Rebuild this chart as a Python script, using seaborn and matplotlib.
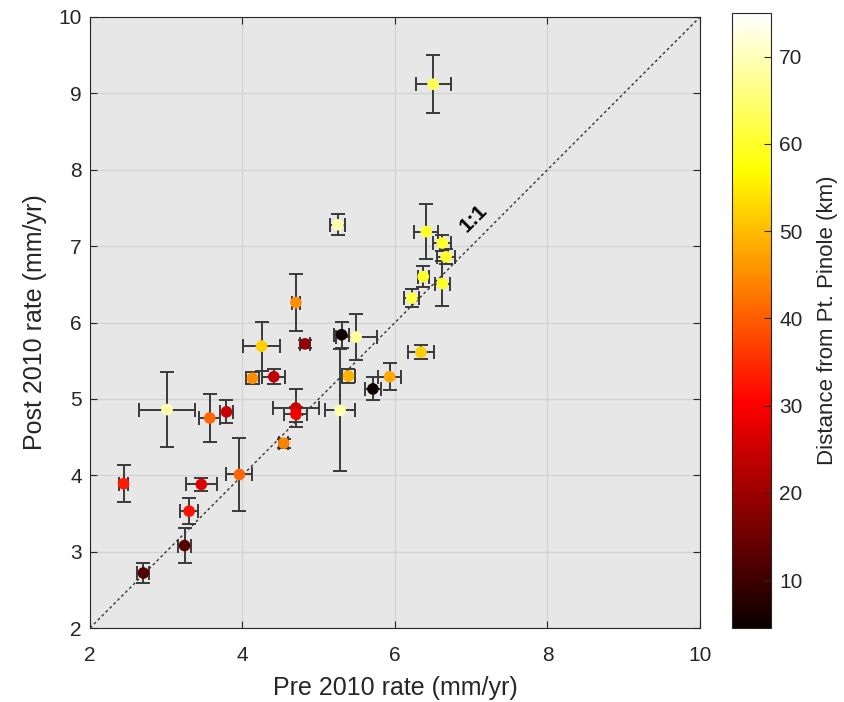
import matplotlib
matplotlib.use("Agg")
import matplotlib.pyplot as plt
import seaborn as sns
import numpy as np
import pandas as pd
from matplotlib.colors import Normalize
from matplotlib.cm import ScalarMappable

pre_rate = [6.50, 5.25, 6.41, 6.62, 6.67, 6.37, 6.62, 6.22, 6.34, 5.93,
            4.70, 4.82, 4.25, 5.30, 5.49, 5.39, 4.13, 4.41, 5.71, 5.28,
            4.70, 4.70, 4.54, 3.79, 3.01, 3.57, 2.44, 3.46, 3.30, 3.96,
            3.24, 2.70]
post_rate = [9.12, 7.28, 7.19, 7.04, 6.86, 6.60, 6.51, 6.32, 5.61, 5.29,
             6.26, 5.72, 5.69, 5.84, 5.81, 5.30, 5.27, 5.29, 5.13, 4.85,
             4.88, 4.80, 4.42, 4.83, 4.86, 4.75, 3.89, 3.88, 3.53, 4.01,
             3.08, 2.72]
pre_err = [0.23, 0.10, 0.16, 0.12, 0.12, 0.07, 0.10, 0.10, 0.17, 0.15,
           0.05, 0.06, 0.24, 0.10, 0.27, 0.08, 0.08, 0.15, 0.10, 0.20,
           0.30, 0.15, 0.06, 0.08, 0.37, 0.14, 0.06, 0.20, 0.12, 0.17,
           0.08, 0.08]
post_err = [0.38, 0.14, 0.36, 0.10, 0.10, 0.14, 0.30, 0.12, 0.09, 0.18,
            0.37, 0.05, 0.32, 0.17, 0.30, 0.09, 0.08, 0.10, 0.15, 0.80,
            0.25, 0.10, 0.06, 0.15, 0.49, 0.32, 0.24, 0.08, 0.17, 0.48,
            0.23, 0.13]
distance = [63, 69, 60, 60, 60, 60, 60, 62, 52, 48,
            45, 19, 52, 5, 68, 49, 45, 24, 5, 69,
            25, 29, 44, 25, 69, 41, 33, 27, 32, 41,
            13, 12]

vmin, vmax = 4.5, 75.0

df = pd.DataFrame({"pre": pre_rate, "post": post_rate, "dist": distance})

plt.rcParams['font.family'] = ['Liberation Sans', 'DejaVu Sans']
fig = plt.figure(figsize=(8.45, 7.02), dpi=100)
ax = fig.add_axes([90/845, 74/702, 610/845, 611/702])
ax.set_facecolor('#e7e7e7')

ax.grid(True, color='#d4d4d4', linewidth=1.0, zorder=0)
ax.set_axisbelow(True)

ax.plot([2, 10], [2, 10], linestyle=(0, (2, 2)), color='#333333', linewidth=1.0, zorder=1)

ax.errorbar(pre_rate, post_rate, xerr=pre_err, yerr=post_err, fmt='none',
            ecolor='#3a3a3a', elinewidth=1.4, capsize=5, capthick=1.4, zorder=2)

norm = Normalize(vmin=vmin, vmax=vmax)
sns.scatterplot(data=df, x="pre", y="post", hue="dist", palette="hot",
                hue_norm=norm, s=70, edgecolor='none', legend=False, ax=ax, zorder=3)

ax.text(7.03, 7.37, "1:1", rotation=45, fontsize=15, fontweight='bold',
        ha='center', va='center', color='black')

ax.set_xlim(2, 10)
ax.set_ylim(2, 10)
ax.set_xticks([2, 4, 6, 8, 10])
ax.set_yticks([2, 3, 4, 5, 6, 7, 8, 9, 10])
ax.tick_params(axis='both', direction='in', top=True, right=True, labelsize=15,
               colors='#262626', length=5)
ax.tick_params(axis='x', pad=13)
ax.tick_params(axis='y', pad=6)
ax.set_xlabel("Pre 2010 rate (mm/yr)", fontsize=18, color='#262626', labelpad=8)
ax.set_ylabel("Post 2010 rate (mm/yr)", fontsize=18, color='#262626', labelpad=8)
for sp in ax.spines.values():
    sp.set_color('#262626')
    sp.set_linewidth(0.8)

cax = fig.add_axes([732/845, 74/702, 39/845, 615/702])
sm = ScalarMappable(norm=norm, cmap='hot')
cb = fig.colorbar(sm, cax=cax)
cb.set_ticks([10, 20, 30, 40, 50, 60, 70])
cb.ax.tick_params(direction='in', labelsize=15, colors='#262626', length=5, pad=6)
cb.set_label("Distance from Pt. Pinole (km)", fontsize=16, color='#262626', labelpad=10)
cb.outline.set_edgecolor('#262626')
cb.outline.set_linewidth(0.8)

fig.savefig("out.png", dpi=100)
